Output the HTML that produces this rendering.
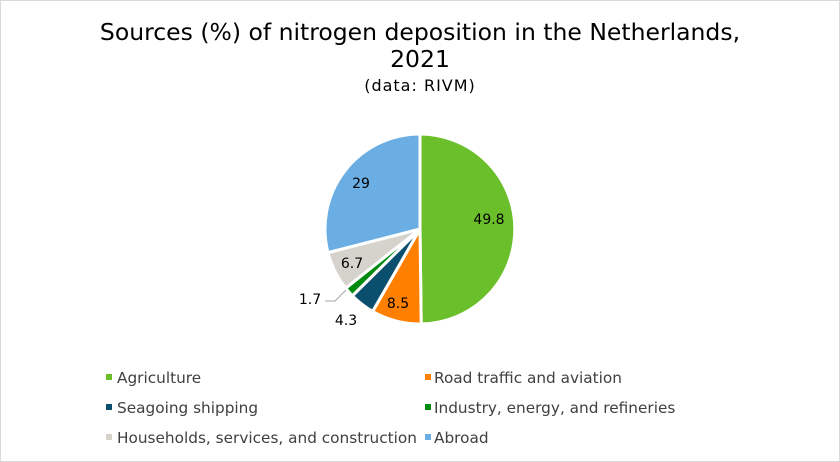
<!DOCTYPE html>
<html><head><meta charset="utf-8"><style>
body{margin:0;background:#fff}
svg{display:block;font-family:"DejaVu Sans","Liberation Sans",sans-serif}
</style></head><body>
<svg id="s" width="840" height="462" viewBox="0 0 840 462">
<rect x="0.5" y="0.5" width="839" height="461" fill="#fff" stroke="#d9d9d9"/>
<text x="420" y="40" font-size="23.5" text-anchor="middle" fill="#000">Sources (%) of nitrogen deposition in the Netherlands,</text>
<text x="420" y="67" font-size="23.5" text-anchor="middle" fill="#000">2021</text>
<text x="420" y="91" font-size="16" letter-spacing="1" text-anchor="middle" fill="#000">(data: RIVM)</text>
<g id="pie"></g>
<g font-size="14" fill="#000" text-anchor="middle">
<text x="489" y="224">49.8</text>
<text x="398" y="308">8.5</text>
<text x="346" y="325">4.3</text>
<text x="310" y="304">1.7</text>
<text x="352" y="268">6.7</text>
<text x="361" y="188">29</text>
</g>
<polyline points="325,301 335,301 346,290" fill="none" stroke="#a6a6a6" stroke-width="1"/>
<g font-size="15.3" fill="#404040">
<rect x="106" y="374" width="6" height="6" fill="#6abf2a"/><text x="117" y="383">Agriculture</text>
<rect x="425" y="374" width="6" height="6" fill="#ff7f00"/><text x="434" y="383">Road traffic and aviation</text>
<rect x="106" y="404" width="6" height="6" fill="#0a506e"/><text x="117" y="413">Seagoing shipping</text>
<rect x="425" y="404" width="6" height="6" fill="#008a0e"/><text x="434" y="413">Industry, energy, and refineries</text>
<rect x="106" y="434" width="6" height="6" fill="#d6d3cc"/><text x="117" y="443">Households, services, and construction</text>
<rect x="425" y="434" width="6" height="6" fill="#6aaee3"/><text x="434" y="443">Abroad</text>
</g>
</svg>
<script>
var d=[[49.8,"#6abf2a"],[8.5,"#ff7f00"],[4.3,"#0a506e"],[1.7,"#008a0e"],[6.7,"#d6d3cc"],[29,"#6aaee3"]];
var cx=420,cy=229,r=95,a=0,g=document.getElementById("pie"),h="";
function p(t){t=t*Math.PI/180;return (cx+r*Math.sin(t)).toFixed(2)+","+(cy-r*Math.cos(t)).toFixed(2);}
d.forEach(function(s){var b=a+s[0]*3.6;h+='<path d="M'+cx+','+cy+' L'+p(a)+' A'+r+','+r+' 0 '+(b-a>180?1:0)+' 1 '+p(b)+' Z" fill="'+s[1]+'" stroke="#fff" stroke-width="3" stroke-linejoin="round"/>';a=b;});
g.innerHTML=h;
</script>
</body></html>
